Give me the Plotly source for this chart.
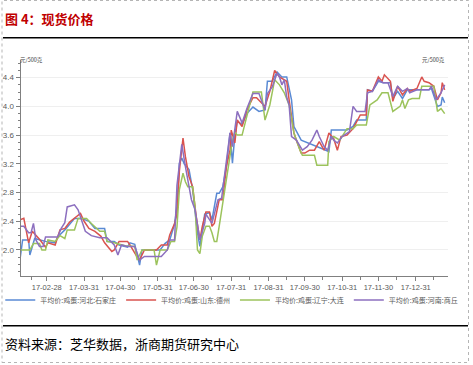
import plotly.graph_objects as go

# ---------------- data ----------------
series_names = ["平均价:鸡蛋:河北:石家庄", "平均价:鸡蛋:山东:德州",
                "平均价:鸡蛋:辽宁:大连", "平均价:鸡蛋:河南:商丘"]

blue_dates = ["2017-02-06","2017-02-08","2017-02-13","2017-02-14","2017-02-18","2017-02-27",
              "2017-03-07","2017-03-09","2017-03-15","2017-03-19","2017-03-23","2017-03-29",
              "2017-04-04","2017-04-09","2017-04-17","2017-04-19","2017-04-25","2017-04-29",
              "2017-05-06","2017-05-08","2017-05-12","2017-05-16","2017-05-18","2017-06-02",
              "2017-06-06","2017-06-10","2017-06-14","2017-06-16","2017-06-18","2017-06-20",
              "2017-06-22","2017-06-26","2017-06-29","2017-07-03","2017-07-05","2017-07-09",
              "2017-07-13","2017-07-15","2017-07-19","2017-07-21","2017-07-24","2017-07-27",
              "2017-07-30","2017-08-01","2017-08-03","2017-08-05","2017-08-09","2017-08-13",
              "2017-08-18","2017-08-23","2017-08-28","2017-08-30","2017-09-03","2017-09-07",
              "2017-09-11","2017-09-15","2017-09-19","2017-09-21","2017-09-24","2017-09-27",
              "2017-10-16","2017-10-20","2017-10-22","2017-11-04","2017-11-09","2017-11-12",
              "2017-11-20","2017-11-21","2017-11-25","2017-11-30","2017-12-04","2017-12-10",
              "2017-12-12","2017-12-16","2017-12-20","2017-12-24","2018-01-11","2018-01-13",
              "2018-01-18","2018-01-21","2018-01-22","2018-01-24"]
blue_vals = [1.89,2.14,2.14,1.93,2.16,2.12,
             2.10,2.18,2.28,2.36,2.44,2.44,
             2.40,2.30,2.30,2.12,2.12,2.07,
             2.04,2.10,2.08,1.79,2.00,2.00,
             2.09,2.14,2.36,2.60,3.21,3.28,
             3.20,3.12,2.84,2.24,2.05,2.50,
             2.52,2.42,2.79,2.79,2.88,3.16,
             3.63,3.21,3.60,3.79,3.75,3.90,
             3.99,3.93,3.95,4.35,4.35,4.48,
             4.41,4.41,4.09,3.72,3.63,3.53,
             3.40,3.37,3.67,3.67,3.72,3.81,
             3.81,4.23,4.21,4.35,4.33,4.33,
             4.11,4.21,4.11,4.23,4.23,4.25,
             4.00,4.02,4.13,4.05]

red_dates = ["2017-02-06","2017-02-09","2017-02-13","2017-02-16","2017-02-22","2017-02-27",
             "2017-03-01","2017-03-07","2017-03-11","2017-03-15","2017-03-19","2017-03-23",
             "2017-03-28","2017-03-31","2017-04-04","2017-04-09","2017-04-14","2017-04-17",
             "2017-04-23","2017-04-25","2017-04-29","2017-05-06","2017-05-08","2017-05-14",
             "2017-05-16","2017-05-20","2017-05-30","2017-06-03","2017-06-08","2017-06-10",
             "2017-06-14","2017-06-16","2017-06-18","2017-06-21","2017-06-23","2017-06-26",
             "2017-06-29","2017-07-02","2017-07-05","2017-07-07","2017-07-10","2017-07-13",
             "2017-07-15","2017-07-17","2017-07-21","2017-07-24","2017-07-27","2017-07-30",
             "2017-07-31","2017-08-03","2017-08-05","2017-08-09","2017-08-13","2017-08-18",
             "2017-08-21","2017-08-25","2017-08-28","2017-09-01","2017-09-05","2017-09-09",
             "2017-09-13","2017-09-15","2017-09-17","2017-09-21","2017-09-23","2017-09-27",
             "2017-09-30","2017-10-04","2017-10-08","2017-10-12","2017-10-16","2017-10-20",
             "2017-10-24","2017-10-27","2017-10-30","2017-11-04","2017-11-09","2017-11-15",
             "2017-11-20","2017-11-21","2017-11-25","2017-11-30","2017-12-03","2017-12-05",
             "2017-12-10","2017-12-12","2017-12-16","2017-12-20","2017-12-24","2017-12-26",
             "2018-01-01","2018-01-05","2018-01-07","2018-01-11","2018-01-15","2018-01-18",
             "2018-01-21","2018-01-22","2018-01-24"]
red_vals = [2.42,2.44,2.10,2.26,2.15,2.04,
            2.10,2.07,2.28,2.30,2.39,2.44,
            2.51,2.40,2.30,2.26,2.19,2.10,
            1.98,2.00,2.12,2.12,2.07,1.90,
            1.86,2.00,2.00,2.07,2.07,2.21,
            2.37,2.50,3.10,3.56,3.30,3.02,
            2.88,2.46,2.14,2.33,2.53,2.53,
            2.33,2.37,2.70,2.70,3.16,3.39,
            3.67,3.49,3.81,3.72,3.95,4.12,
            4.12,4.05,4.00,4.21,4.50,4.41,
            4.37,4.35,4.09,3.63,3.53,3.35,
            3.35,3.39,3.39,3.51,3.39,3.63,
            3.55,3.39,3.58,3.60,3.69,3.88,
            3.88,4.23,4.21,4.41,4.35,4.44,
            4.35,4.07,4.28,4.16,4.25,4.21,
            4.25,4.41,4.35,4.33,4.28,4.09,
            4.19,4.33,4.23]

green_dates = ["2017-02-06","2017-02-14","2017-02-17","2017-02-22","2017-02-24","2017-02-27",
               "2017-03-01","2017-03-07","2017-03-11","2017-03-15","2017-03-17","2017-03-23",
               "2017-03-26","2017-04-02","2017-04-06","2017-04-13","2017-04-17","2017-04-19",
               "2017-04-25","2017-05-04","2017-05-12","2017-05-14","2017-05-18","2017-05-28",
               "2017-05-30","2017-06-02","2017-06-08","2017-06-11","2017-06-14","2017-06-16",
               "2017-06-18","2017-06-21","2017-06-23","2017-06-25","2017-06-29","2017-07-01",
               "2017-07-03","2017-07-05","2017-07-07","2017-07-10","2017-07-13","2017-07-15",
               "2017-07-17","2017-07-19","2017-07-21","2017-07-24","2017-07-27","2017-07-30",
               "2017-08-01","2017-08-03","2017-08-05","2017-08-09","2017-08-13","2017-08-15",
               "2017-08-18","2017-08-25","2017-08-28","2017-09-01","2017-09-05","2017-09-09",
               "2017-09-13","2017-09-17","2017-09-21","2017-09-26","2017-09-28","2017-10-08",
               "2017-10-10","2017-10-19","2017-10-20","2017-10-24","2017-10-29","2017-11-04",
               "2017-11-09","2017-11-12","2017-11-20","2017-11-23","2017-11-29","2017-12-03",
               "2017-12-08","2017-12-12","2017-12-18","2017-12-20","2017-12-22","2017-12-25",
               "2017-12-28","2018-01-03","2018-01-05","2018-01-15","2018-01-18","2018-01-21",
               "2018-01-24"]
green_vals = [2.00,2.00,2.09,2.09,2.00,2.00,
              2.14,2.12,2.20,2.16,2.28,2.28,
              2.44,2.44,2.37,2.26,2.26,2.12,
              2.10,2.06,2.05,1.86,2.00,2.00,
              1.79,2.00,2.00,2.12,2.12,2.32,
              2.84,3.07,2.95,2.88,2.88,2.60,
              2.00,1.95,2.19,2.33,2.33,2.24,
              2.12,2.12,2.33,2.65,2.95,3.25,
              3.53,3.64,3.60,3.60,3.88,4.00,
              4.20,4.20,3.81,4.02,4.37,4.30,
              4.19,4.02,3.63,3.39,3.32,3.32,
              3.18,3.18,3.51,3.58,3.53,3.69,
              3.69,3.74,3.74,4.02,4.09,4.19,
              4.19,3.93,4.00,4.09,3.97,4.09,
              4.11,4.11,4.28,4.28,3.93,3.97,
              3.90]

purple_dates = ["2017-02-06","2017-02-09","2017-02-13","2017-02-15","2017-02-17","2017-02-19",
                "2017-02-22","2017-02-25","2017-02-27","2017-03-09","2017-03-12","2017-03-15",
                "2017-03-17","2017-03-23","2017-03-26","2017-03-29","2017-04-01","2017-04-06",
                "2017-04-13","2017-04-19","2017-04-25","2017-04-28","2017-05-01","2017-05-06",
                "2017-05-12","2017-05-16","2017-05-20","2017-06-03","2017-06-08","2017-06-10",
                "2017-06-14","2017-06-16","2017-06-18","2017-06-20","2017-06-23","2017-06-28",
                "2017-07-01","2017-07-03","2017-07-05","2017-07-09","2017-07-10","2017-07-15",
                "2017-07-20","2017-07-23","2017-07-27","2017-07-30","2017-08-01","2017-08-05",
                "2017-08-09","2017-08-13","2017-08-18","2017-08-23","2017-08-28","2017-08-30",
                "2017-09-03","2017-09-07","2017-09-09","2017-09-11","2017-09-13","2017-09-15",
                "2017-09-17","2017-09-19","2017-09-23","2017-09-28","2017-10-02","2017-10-06",
                "2017-10-10","2017-10-12","2017-10-16","2017-10-19","2017-10-22","2017-10-24",
                "2017-10-27","2017-10-31","2017-11-06","2017-11-09","2017-11-12","2017-11-19",
                "2017-11-21","2017-11-25","2017-11-30","2017-12-04","2017-12-08","2017-12-12",
                "2017-12-16","2017-12-20","2017-12-24","2017-12-26","2018-01-01","2018-01-11",
                "2018-01-13","2018-01-17","2018-01-21","2018-01-24"]
purple_vals = [2.33,2.33,2.24,2.24,2.37,2.14,
               2.05,2.05,2.18,2.18,2.30,2.38,
               2.60,2.63,2.56,2.40,2.26,2.20,
               2.17,2.17,2.07,1.93,2.07,2.05,
               2.05,1.86,1.91,1.91,2.00,2.14,
               2.14,2.90,3.20,3.47,3.16,2.70,
               2.56,2.33,2.14,2.37,2.50,2.37,
               2.70,2.72,3.21,3.63,3.44,3.93,
               3.77,3.97,4.18,4.18,3.95,4.18,
               4.27,4.46,4.41,4.30,4.37,4.13,
               4.02,3.58,3.53,3.39,3.44,3.53,
               3.67,3.58,3.44,3.39,3.58,3.53,
               3.49,3.58,3.65,4.00,3.93,3.93,
               4.19,4.21,4.37,4.33,4.33,4.14,
               4.28,4.21,4.25,4.19,4.23,4.23,
               4.28,4.09,4.19,4.30]

x_tick_vals = ["2017-02-28","2017-03-31","2017-04-30","2017-05-31","2017-06-30","2017-07-31",
               "2017-08-31","2017-09-30","2017-10-31","2017-11-30","2017-12-31"]
x_tick_text = ["17-02-28","17-03-31","17-04-30","17-05-31","17-06-30","17-07-31",
               "17-08-31","17-09-30","17-10-31","17-11-30","17-12-31"]
x_minor_vals = ["2017-02-15","2017-03-15","2017-04-15","2017-05-15","2017-06-15","2017-07-15",
                "2017-08-15","2017-09-15","2017-10-15","2017-11-15","2017-12-15","2018-01-15"]
y_tick_vals = [2.0, 2.4, 2.8, 3.2, 3.6, 4.0, 4.4]

title_text = "图 4：现货价格"
unit_text = "元/500克"
source_text = "资料来源：芝华数据，浙商期货研究中心"

colors = ["#5a8ad4", "#d9534f", "#9cc35c", "#8c6fbf"]

# ---------------- figure ----------------
W, H = 473, 365
def px_x(v): return v / W
def px_y(v): return 1 - v / H

fig = go.Figure()
for name, xs, ys, c in zip(series_names,
                           [blue_dates, red_dates, green_dates, purple_dates],
                           [blue_vals, red_vals, green_vals, purple_vals], colors):
    fig.add_trace(go.Scatter(x=xs, y=ys, name=name, mode="lines",
                             line=dict(color=c, width=1.5)))

axis_font = dict(family="Liberation Sans, Arial, sans-serif", size=8, color="#595959")
y_common = dict(range=[1.642, 4.646], tickvals=y_tick_vals, tickformat=".1f",
                ticks="outside", ticklen=4, tickcolor="#808080",
                showline=True, linecolor="#808080", linewidth=1,
                zeroline=False, tickfont=axis_font,
                minor=dict(ticks="outside", ticklen=2, dtick=0.1, tick0=0,
                           tickcolor="#808080", showgrid=False),
                domain=[px_y(275.7), px_y(60)])

fig.update_layout(
    width=W, height=H,
    margin=dict(l=0, r=0, t=0, b=0),
    paper_bgcolor="white", plot_bgcolor="white",
    font=dict(family="Noto Sans CJK SC, sans-serif", color="#595959"),
    showlegend=True,
    legend=dict(orientation="h", x=0.49, xanchor="center", y=px_y(300), yanchor="middle",
                font=dict(size=7, color="#595959", family="Noto Sans CJK SC"),
                bgcolor="rgba(0,0,0,0)", itemwidth=30, tracegroupgap=0),
    xaxis=dict(type="date", range=["2017-02-06 06:00", "2018-01-26 08:00"],
               domain=[px_x(20.5), px_x(447.5)],
               tickvals=x_tick_vals, ticktext=x_tick_text,
               ticks="outside", ticklen=4, tickcolor="#808080",
               showline=True, linecolor="#808080", linewidth=1,
               showgrid=False, zeroline=False,
               tickfont=dict(family="Liberation Sans, Arial, sans-serif", size=7.5, color="#595959"),
               minor=dict(ticks="outside", ticklen=3, tickvals=x_minor_vals,
                          tickcolor="#808080", showgrid=False)),
    yaxis=dict(**y_common, showgrid=True, gridcolor="#efefef", gridwidth=1, side="left"),
    yaxis2=dict(**y_common, overlaying="y", side="right", anchor="x", showgrid=False),
)

shapes = [
    # page dashed frame
    dict(type="rect", xref="paper", yref="paper", x0=px_x(2), x1=px_x(468.5),
         y0=px_y(362.5), y1=px_y(0.5), line=dict(color="#b5b5b5", width=1, dash="dot")),
    # header rule
    dict(type="line", xref="paper", yref="paper", x0=px_x(3), x1=px_x(468),
         y0=px_y(37.7), y1=px_y(37.7), line=dict(color="black", width=1.5)),
    # footer rule
    dict(type="line", xref="paper", yref="paper", x0=px_x(3), x1=px_x(468),
         y0=px_y(325.7), y1=px_y(325.7), line=dict(color="black", width=1.5)),
]
fig.update_layout(shapes=shapes)

annotations = [
    dict(text="<b>" + title_text + "</b>", x=px_x(3), y=px_y(18), xref="paper", yref="paper",
         xanchor="left", yanchor="middle", showarrow=False,
         font=dict(size=13, color="#c00000", family="Noto Sans CJK SC")),
    dict(text=unit_text, x=px_x(18), y=px_y(60), xref="paper", yref="paper",
         xanchor="left", yanchor="middle", showarrow=False,
         font=dict(size=5.5, color="#404040", family="Noto Sans CJK SC")),
    dict(text=unit_text, x=px_x(447), y=px_y(60), xref="paper", yref="paper",
         xanchor="right", yanchor="middle", showarrow=False,
         font=dict(size=5.5, color="#404040", family="Noto Sans CJK SC")),
    dict(text=source_text, x=px_x(3), y=px_y(343), xref="paper", yref="paper",
         xanchor="left", yanchor="middle", showarrow=False,
         font=dict(size=13, color="black", family="Noto Sans CJK SC")),
]
fig.update_layout(annotations=annotations)

fig.write_html("out.html")
